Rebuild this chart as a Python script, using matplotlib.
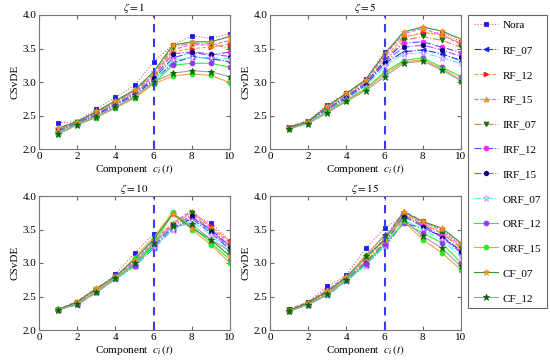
import numpy as np
import matplotlib
matplotlib.use('Agg')
import matplotlib.pyplot as plt

plt.rcParams['font.family'] = ['Liberation Serif', 'DejaVu Serif']
plt.rcParams['mathtext.fontset'] = 'stix'
plt.rcParams['font.size'] = 8

x = np.arange(1, 11)
labels = ['Nora', 'RF_07', 'RF_12', 'RF_15', 'IRF_07', 'IRF_12', 'IRF_15',
          'ORF_07', 'ORF_12', 'ORF_15', 'CF_07', 'CF_12']
zetas = [1, 5, 10, 15]

# CSvDE per method, zeta = 1
csvde_z1 = [
    [2.39, 2.41, 2.60, 2.77, 2.95, 3.30, 3.55, 3.69, 3.65, 3.72],
    [2.27, 2.38, 2.50, 2.65, 2.80, 3.02, 3.28, 3.38, 3.35, 3.30],
    [2.29, 2.39, 2.53, 2.68, 2.84, 3.08, 3.45, 3.50, 3.52, 3.57],
    [2.31, 2.40, 2.55, 2.70, 2.86, 3.10, 3.48, 3.56, 3.55, 3.62],
    [2.28, 2.40, 2.54, 2.70, 2.87, 3.12, 3.52, 3.58, 3.57, 3.50],
    [2.26, 2.38, 2.51, 2.66, 2.82, 3.04, 3.36, 3.44, 3.40, 3.45],
    [2.28, 2.39, 2.52, 2.67, 2.83, 3.06, 3.42, 3.45, 3.42, 3.38],
    [2.25, 2.37, 2.49, 2.63, 2.79, 3.00, 3.33, 3.36, 3.36, 3.35],
    [2.24, 2.37, 2.48, 2.62, 2.77, 2.98, 3.25, 3.28, 3.28, 3.22],
    [2.22, 2.36, 2.47, 2.61, 2.76, 2.97, 3.09, 3.12, 3.10, 2.99],
    [2.31, 2.41, 2.56, 2.72, 2.88, 3.15, 3.55, 3.60, 3.60, 3.68],
    [2.23, 2.36, 2.48, 2.62, 2.78, 3.00, 3.13, 3.17, 3.15, 3.08],
]

# zeta = 5
csvde_z5 = [
    [2.33, 2.42, 2.66, 2.83, 3.04, 3.45, 3.68, 3.72, 3.74, 3.60],
    [2.32, 2.40, 2.58, 2.76, 2.95, 3.28, 3.45, 3.48, 3.42, 3.32],
    [2.33, 2.42, 2.62, 2.80, 3.00, 3.37, 3.66, 3.74, 3.70, 3.58],
    [2.33, 2.42, 2.63, 2.82, 3.02, 3.40, 3.72, 3.80, 3.70, 3.56],
    [2.31, 2.40, 2.60, 2.79, 2.98, 3.33, 3.62, 3.68, 3.62, 3.52],
    [2.32, 2.41, 2.60, 2.78, 2.98, 3.32, 3.58, 3.60, 3.52, 3.44],
    [2.32, 2.40, 2.59, 2.77, 2.96, 3.30, 3.52, 3.55, 3.48, 3.38],
    [2.31, 2.40, 2.57, 2.74, 2.93, 3.24, 3.42, 3.44, 3.36, 3.28],
    [2.31, 2.39, 2.56, 2.73, 2.90, 3.15, 3.32, 3.36, 3.22, 3.08],
    [2.30, 2.39, 2.55, 2.72, 2.89, 3.12, 3.30, 3.33, 3.20, 3.03],
    [2.32, 2.41, 2.64, 2.83, 3.03, 3.42, 3.75, 3.82, 3.76, 3.64],
    [2.30, 2.38, 2.54, 2.71, 2.87, 3.08, 3.28, 3.31, 3.18, 3.02],
]

# zeta = 10
csvde_z10 = [
    [2.31, 2.40, 2.60, 2.83, 3.15, 3.43, 3.55, 3.72, 3.60, 3.33],
    [2.30, 2.38, 2.56, 2.76, 2.95, 3.22, 3.50, 3.68, 3.50, 3.25],
    [2.31, 2.42, 2.61, 2.79, 3.00, 3.30, 3.58, 3.76, 3.55, 3.32],
    [2.31, 2.43, 2.62, 2.80, 3.02, 3.32, 3.60, 3.78, 3.52, 3.30],
    [2.30, 2.41, 2.59, 2.78, 2.98, 3.28, 3.57, 3.75, 3.48, 3.25],
    [2.31, 2.40, 2.58, 2.77, 2.97, 3.25, 3.52, 3.66, 3.45, 3.20],
    [2.31, 2.39, 2.57, 2.77, 2.96, 3.25, 3.55, 3.70, 3.47, 3.22],
    [2.30, 2.39, 2.56, 2.76, 2.95, 3.23, 3.50, 3.62, 3.42, 3.15],
    [2.30, 2.39, 2.57, 2.77, 2.96, 3.28, 3.74, 3.55, 3.30, 3.05],
    [2.31, 2.40, 2.58, 2.78, 3.08, 3.38, 3.76, 3.50, 3.27, 3.00],
    [2.30, 2.42, 2.62, 2.80, 3.05, 3.35, 3.73, 3.52, 3.35, 3.10],
    [2.30, 2.39, 2.56, 2.77, 3.00, 3.30, 3.55, 3.58, 3.35, 3.18],
]

# zeta = 15
csvde_z15 = [
    [2.32, 2.42, 2.65, 2.82, 3.22, 3.52, 3.70, 3.62, 3.50, 3.28],
    [2.29, 2.38, 2.52, 2.73, 2.97, 3.25, 3.60, 3.52, 3.40, 3.18],
    [2.30, 2.41, 2.58, 2.78, 3.05, 3.33, 3.74, 3.60, 3.45, 3.24],
    [2.30, 2.42, 2.60, 2.80, 3.08, 3.36, 3.78, 3.62, 3.48, 3.26],
    [2.29, 2.40, 2.56, 2.76, 3.02, 3.30, 3.72, 3.58, 3.44, 3.22],
    [2.29, 2.39, 2.55, 2.75, 3.00, 3.28, 3.70, 3.56, 3.40, 3.15],
    [2.29, 2.39, 2.55, 2.76, 3.00, 3.30, 3.70, 3.54, 3.38, 3.16],
    [2.28, 2.38, 2.52, 2.73, 2.96, 3.26, 3.64, 3.50, 3.34, 3.10],
    [2.28, 2.38, 2.53, 2.74, 2.98, 3.28, 3.60, 3.45, 3.30, 3.00],
    [2.28, 2.39, 2.54, 2.76, 3.12, 3.40, 3.62, 3.35, 3.15, 2.90],
    [2.29, 2.41, 2.58, 2.79, 3.08, 3.35, 3.76, 3.62, 3.52, 3.30],
    [2.28, 2.38, 2.53, 2.75, 3.10, 3.42, 3.65, 3.40, 3.22, 2.95],
]

all_data = [csvde_z1, csvde_z5, csvde_z10, csvde_z15]

# (line colour, line style, marker, marker colour)
styles = [
    ('#ff5a5a', ':', 's', '#1a1aff'),
    ('#2a2aff', '-.', '<', '#1a1aff'),
    ('#ffa040', '--', '>', '#ff1a1a'),
    ('#ff55ff', '--', '^', '#ff8c1a'),
    ('#d08850', '-.', 'v', '#007a00'),
    ('#5050ff', '-.', 'o', '#ff22ff'),
    ('#9955ff', '-.', 'h', '#00007a'),
    ('#40ffff', '-.', '*', '#c090ff'),
    ('#33ee33', '-', 'o', '#9933ff'),
    ('#ffa040', '-', 'o', '#22ee22'),
    ('#2a9a2a', '-', '*', '#ff8c1a'),
    ('#a0a0a0', '-', '*', '#006600'),
]

fig = plt.figure(figsize=(5.5, 3.61), dpi=100)
pos = [(39, 15), (270, 15), (39, 196), (270, 196)]
W, H = 550, 361
handles = []
for k, (px, py) in enumerate(pos):
    ax = fig.add_axes([px / W, 1 - (py + 134) / H, 191 / W, 134 / H])
    for i, row in enumerate(all_data[k]):
        lc, ls, mk, mc = styles[i]
        mfc = 'white' if i == 7 else mc
        ms = 4.5 if mk == '*' else 3.5
        ln, = ax.plot(x, row, color=lc, ls=ls, lw=0.8, marker=mk, ms=ms,
                      mfc=mfc, mec=mc, mew=0.6)
        if k == 0:
            handles.append(ln)
    ax.axvline(6, color='#3a3aff', ls=(0, (4, 3)), lw=1.5)
    ax.set_xlim(0, 10)
    ax.set_ylim(2.0, 4.0)
    ax.set_xticks([0, 2, 4, 6, 8, 10])
    ax.set_yticks([2.0, 2.5, 3.0, 3.5, 4.0])
    ax.tick_params(direction='in', top=True, right=True, length=3,
                   color='#666666', labelsize=8, pad=2)
    for s in ax.spines.values():
        s.set_color('#777777')
    ax.set_title(r'$\zeta=%d$' % zetas[k], fontsize=8, pad=3)
    ax.set_xlabel(r'Component  $c_i\,(t)$', fontsize=8, labelpad=1)
    ax.set_ylabel('CSvDE', fontsize=8, labelpad=2)

leg = fig.legend(handles, labels, loc='upper left',
                 bbox_to_anchor=(468 / W, 1 - 15 / H), fontsize=8,
                 labelspacing=1.35, handlelength=2.2, handletextpad=0.4,
                 borderpad=0.5, borderaxespad=0, fancybox=False,
                 framealpha=1)
leg.get_frame().set_edgecolor('#666666')
leg.get_frame().set_linewidth(0.8)

fig.savefig('out.png', dpi=100)
